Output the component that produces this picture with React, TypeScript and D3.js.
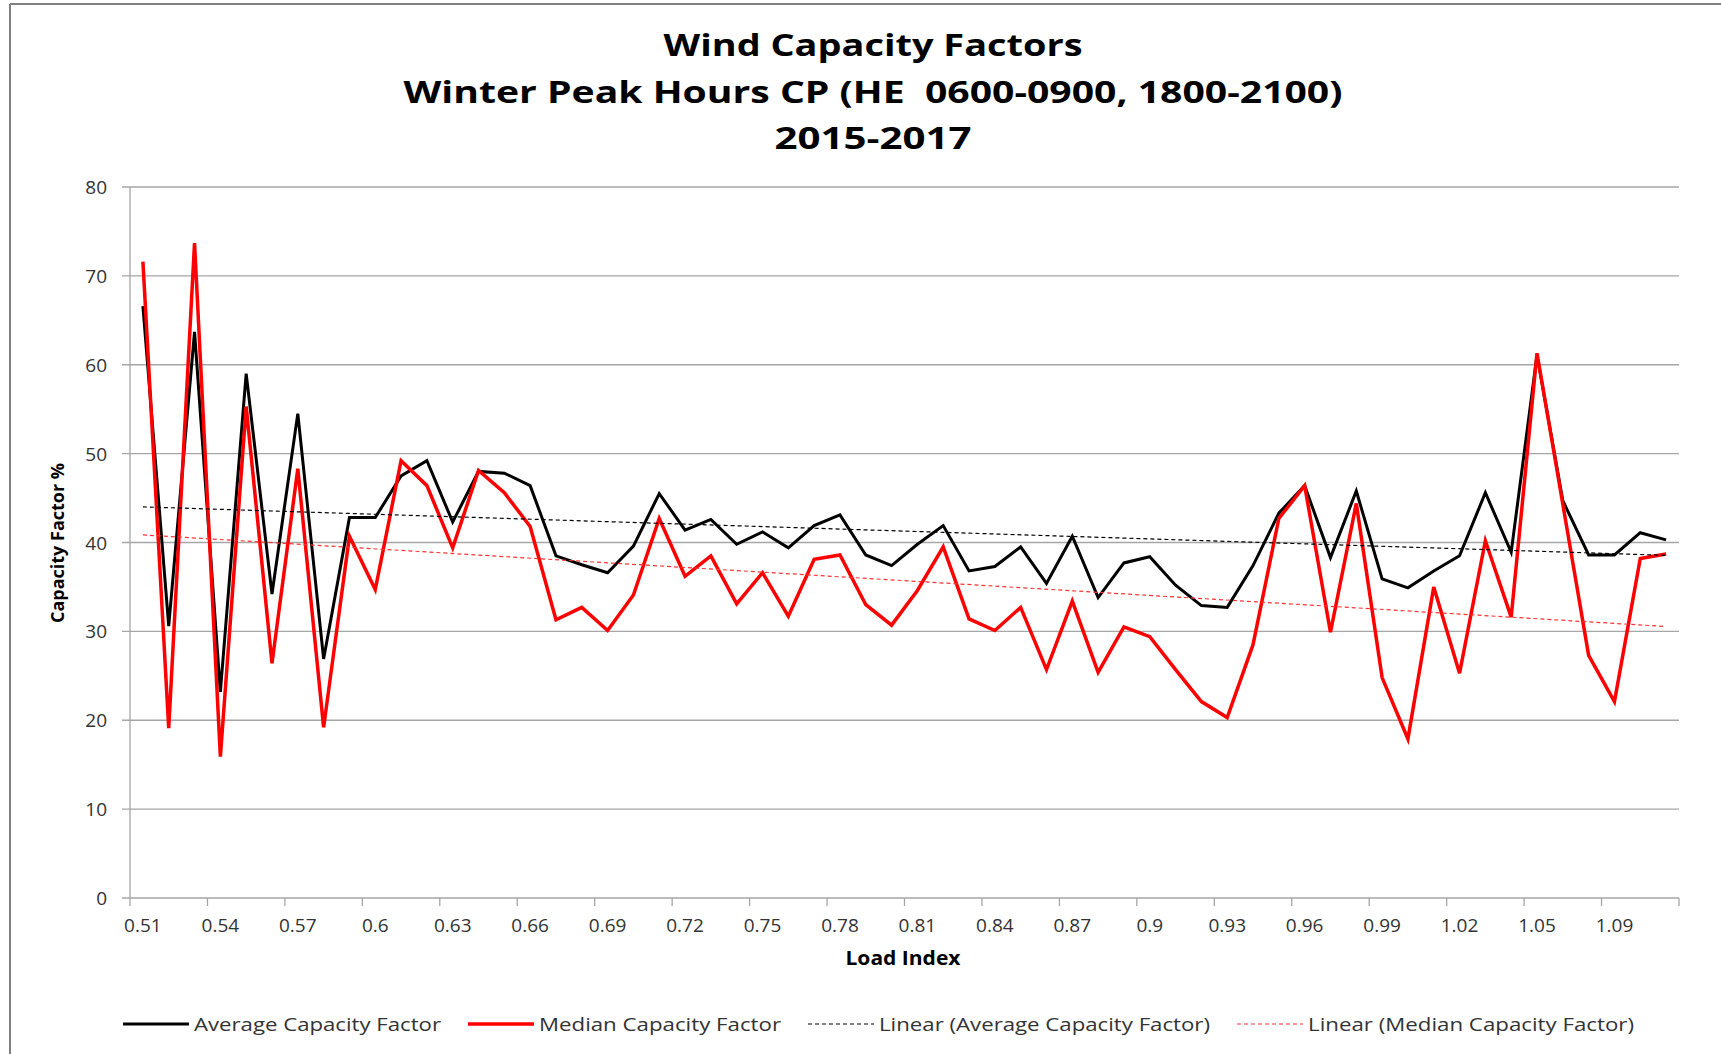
import React from 'react';
import * as d3 from 'd3';

// load index categories (x axis), one per point
const loadIndex = [
  '0.51', '0.52', '0.53', '0.54', '0.55', '0.56', '0.57', '0.58', '0.59', '0.6',
  '0.61', '0.62', '0.63', '0.64', '0.65', '0.66', '0.67', '0.68', '0.69', '0.7',
  '0.71', '0.72', '0.73', '0.74', '0.75', '0.76', '0.77', '0.78', '0.79', '0.8',
  '0.81', '0.82', '0.83', '0.84', '0.85', '0.86', '0.87', '0.88', '0.89', '0.9',
  '0.91', '0.92', '0.93', '0.94', '0.95', '0.96', '0.97', '0.98', '0.99', '1',
  '1.01', '1.02', '1.03', '1.04', '1.05', '1.06', '1.08', '1.09', '1.1', '1.11',
];

const averageCF = [
  66.6, 30.6, 63.7, 23.2, 59.0, 34.2, 54.5, 26.9, 42.8, 42.8, 47.5, 49.2,
  42.3, 48.0, 47.8, 46.4, 38.5, 37.5, 36.6, 39.6, 45.5, 41.4, 42.6, 39.8,
  41.2, 39.4, 41.9, 43.1, 38.6, 37.4, 39.8, 41.9, 36.8, 37.3, 39.5, 35.4,
  40.7, 33.8, 37.7, 38.4, 35.2, 32.9, 32.7, 37.4, 43.3, 46.4, 38.3, 45.8,
  35.9, 34.9, 36.8, 38.5, 45.6, 38.9, 61.1, 44.7, 38.6, 38.6, 41.1, 40.3,
];

const medianCF = [
  71.6, 19.1, 73.7, 15.9, 55.3, 26.4, 48.3, 19.2, 40.7, 34.7, 49.2, 46.4,
  39.4, 48.1, 45.6, 41.8, 31.3, 32.7, 30.1, 34.1, 42.7, 36.2, 38.5, 33.1,
  36.6, 31.7, 38.1, 38.6, 33.0, 30.7, 34.6, 39.5, 31.4, 30.1, 32.7, 25.7,
  33.4, 25.4, 30.5, 29.4, 25.7, 22.1, 20.3, 28.5, 42.7, 46.4, 29.9, 44.4,
  24.8, 17.9, 35.0, 25.3, 40.2, 31.6, 61.3, 44.3, 27.3, 22.1, 38.2, 38.7,
];

const yTicks = [0, 10, 20, 30, 40, 50, 60, 70, 80];

const titleLines = [
  'Wind Capacity Factors',
  'Winter Peak Hours CP (HE  0600-0900, 1800-2100)',
  '2015-2017',
];

const legendLabels = [
  'Average Capacity Factor',
  'Median Capacity Factor',
  'Linear (Average Capacity Factor)',
  'Linear (Median Capacity Factor)',
];

const W = 1721;
const H = 1054;
const margin = { left: 130, right: 42, top: 187, bottom: 156 };
const FONT = '"Open Sans", "DejaVu Sans", sans-serif';

// least squares trend over point index (same as Excel's linear trendline)
function trend(values: number[]) {
  const n = values.length;
  const xs = values.map((_, i) => i + 1);
  const mx = d3.mean(xs) as number;
  const my = d3.mean(values) as number;
  let sxy = 0;
  let sxx = 0;
  xs.forEach((x, i) => {
    sxy += (x - mx) * (values[i] - my);
    sxx += (x - mx) * (x - mx);
  });
  const slope = sxy / sxx;
  const icpt = my - slope * mx;
  return [icpt + slope * 1, icpt + slope * n];
}

export default function App() {
  const x = d3.scaleBand<string>().domain(loadIndex).range([margin.left, W - margin.right]).padding(0);
  const y = d3.scaleLinear().domain([0, 80]).range([H - margin.bottom, margin.top]);
  const bw = x.bandwidth();
  const cx = (i: number) => (x(loadIndex[i]) as number) + bw / 2;

  const line = d3.line<number>()
    .x((_, i) => cx(i))
    .y(d => y(d));

  const avgTrend = trend(averageCF);
  const medTrend = trend(medianCF);
  const last = loadIndex.length - 1;

  const x0 = margin.left;
  const x1 = W - margin.right;
  const yBottom = y(0);

  const tickIdx = loadIndex.map((_, i) => i).filter(i => i % 3 === 0);

  const titleWidths = [419, 939, 197];
  const titleBase = [56, 103, 149];

  const legendX = [123, 468, 808, 1237];
  const legendTextW = [247, 242, 331, 326];
  const legendStyles = [
    { stroke: '#000', width: 3, dash: undefined },
    { stroke: '#ff0000', width: 3.5, dash: undefined },
    { stroke: '#000', width: 1.2, dash: '4,3' },
    { stroke: '#ff3333', width: 1.2, dash: '4,3' },
  ];

  return (
    <div style={{ position: 'fixed', left: 0, top: 0 }}>
      <svg width={W} height={H} viewBox={`0 0 ${W} ${H}`} style={{ display: 'block', background: '#fff' }}>
        {/* chart frame (only left and top edges are visible) */}
        <line x1={10} y1={4} x2={W} y2={4} stroke="#808080" strokeWidth={2} />
        <line x1={10} y1={4} x2={10} y2={H} stroke="#808080" strokeWidth={2} />

        {/* title */}
        {titleLines.map((t, i) => (
          <text key={t} x={873} y={titleBase[i]} textAnchor="middle" fontFamily={FONT}
            fontWeight="bold" fontSize={31} fill="#000" style={{ whiteSpace: 'pre' }}
            textLength={titleWidths[i]} lengthAdjust="spacingAndGlyphs">{t}</text>
        ))}

        {/* gridlines */}
        {yTicks.map(t => (
          <line key={t} x1={x0 - 8} x2={x1} y1={y(t)} y2={y(t)} stroke="#a6a6a6" strokeWidth={1.3} />
        ))}
        {/* y axis */}
        <line x1={x0} x2={x0} y1={y(80)} y2={yBottom} stroke="#a6a6a6" strokeWidth={1.3} />
        {yTicks.map(t => (
          <text key={t} x={107} y={y(t) + 7} textAnchor="end" fontFamily={FONT} fontSize={19} fill="#333">{t}</text>
        ))}
        <text transform={`translate(64,543) rotate(-90)`} textAnchor="middle" fontFamily={FONT}
          fontWeight="bold" fontSize={17} fill="#000" textLength={160} lengthAdjust="spacingAndGlyphs">Capacity Factor %</text>

        {/* x axis */}
        {tickIdx.map(i => (
          <line key={i} x1={x(loadIndex[i])} x2={x(loadIndex[i])} y1={yBottom} y2={yBottom + 8} stroke="#a6a6a6" strokeWidth={1.3} />
        ))}
        <line x1={x1} x2={x1} y1={yBottom} y2={yBottom + 8} stroke="#a6a6a6" strokeWidth={1.3} />
        {tickIdx.map(i => (
          <text key={i} x={cx(i)} y={932} textAnchor="middle" fontFamily={FONT} fontSize={19} fill="#333">{loadIndex[i]}</text>
        ))}
        <text x={903} y={965} textAnchor="middle" fontFamily={FONT} fontWeight="bold" fontSize={19}
          fill="#000" textLength={115} lengthAdjust="spacingAndGlyphs">Load Index</text>

        {/* series */}
        <path d={line(averageCF) as string} fill="none" stroke="#000" strokeWidth={3} strokeLinejoin="miter" />
        <path d={line(medianCF) as string} fill="none" stroke="#ff0000" strokeWidth={3.5} strokeLinejoin="miter" />

        {/* linear trendlines */}
        <line x1={cx(0)} x2={cx(last)} y1={y(avgTrend[0])} y2={y(avgTrend[1])} stroke="#000" strokeWidth={1.2} strokeDasharray="4,3" />
        <line x1={cx(0)} x2={cx(last)} y1={y(medTrend[0])} y2={y(medTrend[1])} stroke="#ff3333" strokeWidth={1.2} strokeDasharray="4,3" />

        {/* legend */}
        {legendLabels.map((lab, i) => (
          <g key={lab}>
            <line x1={legendX[i]} x2={legendX[i] + 66} y1={1024} y2={1024} stroke={legendStyles[i].stroke}
              strokeWidth={legendStyles[i].width} strokeDasharray={legendStyles[i].dash} />
            <text x={legendX[i] + 71} y={1031} fontFamily={FONT} fontSize={19} fill="#333"
              textLength={legendTextW[i]} lengthAdjust="spacingAndGlyphs">{lab}</text>
          </g>
        ))}
      </svg>
    </div>
  );
}
